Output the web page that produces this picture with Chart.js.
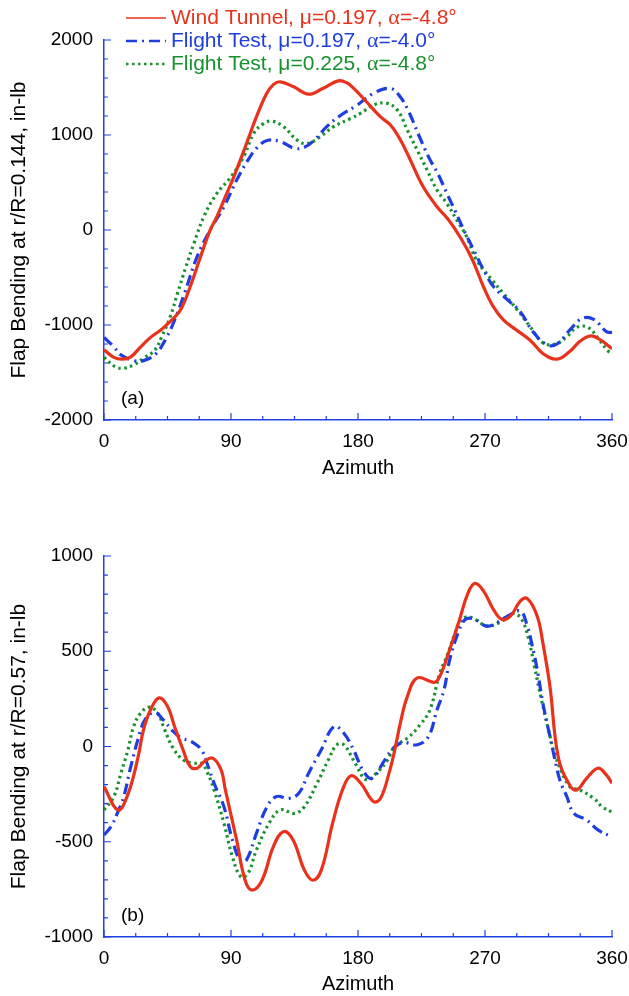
<!DOCTYPE html>
<html>
<head>
<meta charset="utf-8">
<script src="https://cdn.jsdelivr.net/npm/chart.js@4.4.1/dist/chart.umd.min.js"></script>
<style>
  body { margin: 0; background: #fff; width: 629px; height: 996px; overflow: hidden; }
  .box { position: absolute; left: 0; width: 629px; }
</style>
</head>
<body>
<div class="box" style="top:0"><canvas id="chartA" width="629" height="490"></canvas></div>
<div class="box" style="top:500px"><canvas id="chartB" width="629" height="496"></canvas></div>
<script>
// ---- data ----
const seriesLabels = [
  'Wind Tunnel, μ=0.197, α=-4.8°',
  'Flight Test, μ=0.197, α=-4.0°',
  'Flight Test, μ=0.225, α=-4.8°'
];
const xTicks = [0, 90, 180, 270, 360];
const yTicksA = [-2000, -1000, 0, 1000, 2000];
const yTicksB = [-1000, -500, 0, 500, 1000];

// (a) r/R = 0.144
const azA_wt = [0,7,13,19,26,33,40,45,50,55,61,68,75,80,86,92,101,108,115,120,125,134,145,155,166,172,177,186,196,203,210,217,226,236,244,253,261,269,276,283,292,302,311,321,330,337,345,352,360];
const fbA_wt = [-1260,-1340,-1360,-1335,-1230,-1130,-1055,-990,-920,-820,-600,-300,-10,140,350,560,910,1190,1430,1530,1560,1510,1430,1490,1570,1550,1490,1350,1190,1105,950,740,460,245,110,-90,-310,-600,-810,-945,-1050,-1160,-1300,-1360,-1280,-1175,-1115,-1160,-1250];
const azA_ft1 = [0,7,12,21,28,37,44,50,57,66,76,85,94,102,109,116,125,135,142,149,158,168,179,191,203,210,216,223,230,237,243,249,255,262,269,276,286,295,304,314,321,330,339,347,356,360];
const fbA_ft1 = [-1130,-1230,-1315,-1375,-1375,-1300,-1140,-950,-670,-280,20,245,525,735,875,945,930,860,870,945,1090,1210,1310,1440,1490,1400,1245,1000,770,580,385,195,0,-210,-420,-595,-735,-860,-1070,-1210,-1200,-1055,-930,-940,-1070,-1080];
const azA_ft2 = [0,8,14,21,28,36,41,47,52,58,64,71,80,90,99,106,113,119,127,137,144,153,163,175,182,191,200,208,215,222,229,236,243,250,257,264,275,283,293,302,311,320,328,335,343,351,357,360];
const fbA_ft2 = [-1340,-1440,-1455,-1420,-1350,-1265,-1120,-910,-670,-390,-130,150,385,560,770,1015,1120,1145,1090,945,910,980,1090,1175,1230,1315,1335,1260,1050,840,630,420,280,105,-70,-316,-526,-667,-842,-1018,-1186,-1200,-1123,-1025,-1025,-1158,-1270,-1300];

// (b) r/R = 0.57
const azB_wt = [0,10,17,24,28,33,39,45,50,56,61,66,71,77,83,86,94,100,105,112,120,127,134,142,148,154,162,169,175,182,191,196,202,206,210,215,222,234,238,245,252,258,263,269,276,282,288,295,300,307,311,316,322,330,335,342,350,356,360];
const fbB_wt = [-211,-333,-250,-60,88,193,255,211,105,-17,-105,-114,-79,-61,-123,-228,-491,-702,-754,-702,-526,-447,-491,-649,-702,-649,-403,-228,-154,-193,-289,-272,-140,-20,123,263,360,337,368,509,667,807,856,816,719,667,684,763,776,684,544,316,-60,-202,-228,-167,-114,-149,-193];
const azB_ft1 = [0,5,10,14,19,24,29,36,42,49,55,62,69,73,78,85,91,97,101,108,115,122,131,138,145,154,163,170,177,184,190,199,205,212,222,230,236,241,245,251,256,262,271,278,286,295,300,303,307,311,316,318,323,328,333,342,350,360];
const fbB_ft1 = [-465,-420,-340,-263,-105,35,140,179,140,79,44,26,-17,-88,-193,-316,-491,-605,-596,-456,-324,-263,-272,-246,-140,-17,105,70,-20,-132,-167,-70,-9,21,9,53,193,298,456,597,667,670,632,649,684,711,632,544,404,228,53,-17,-175,-263,-351,-386,-438,-475];
const azB_ft2 = [0,7,12,17,21,26,32,38,43,49,56,63,69,73,78,85,91,97,102,108,117,125,135,142,151,159,165,170,178,186,194,201,206,215,224,231,238,243,248,252,257,264,271,281,290,296,301,305,310,315,320,330,337,347,353,360];
const fbB_ft2 = [-333,-263,-140,-17,105,175,207,175,88,-9,-70,-88,-88,-132,-228,-403,-579,-684,-667,-544,-403,-333,-351,-316,-193,-70,9,9,-88,-175,-132,-70,0,44,114,193,386,474,579,649,681,663,632,653,698,667,561,421,246,88,-53,-211,-228,-272,-316,-345];

// ---- styling ----
const axisBlue = '#2340e0';
const colors = ['#e8321c', '#1f3ee0', '#17922c'];
const dashes = [[], [11, 5, 2, 5], [2.5, 3.5]];
const fontFam = "'Liberation Sans', Arial, sans-serif";

const pts = (xs, ys) => xs.map((x, i) => ({ x, y: ys[i] }));

function makeDatasets(sets) {
  return sets.map((s, i) => ({
    label: seriesLabels[i],
    data: pts(s[0], s[1]),
    borderColor: colors[i],
    borderWidth: 3.2,
    borderDash: dashes[i],
    pointRadius: 0,
    tension: 0.4,
    fill: false
  }));
}

// inward tick marks, drawn through the chart's own scales
const innerTicks = {
  id: 'innerTicks',
  afterDraw(chart, args, o) {
    const { ctx, chartArea: a, scales: { x, y } } = chart;
    ctx.save();
    ctx.strokeStyle = axisBlue;
    ctx.lineWidth = 1.2;
    ctx.beginPath();
    for (let v = 0; v <= 360; v += 22.5) {
      const px = x.getPixelForValue(v);
      const len = v % 90 === 0 ? 7 : 4;
      ctx.moveTo(px, a.bottom);
      ctx.lineTo(px, a.bottom - len);
    }
    for (let v = o.min; v <= o.max; v += o.minor) {
      const py = y.getPixelForValue(v);
      const len = v % o.major === 0 ? 7 : 4;
      ctx.moveTo(a.left, py);
      ctx.lineTo(a.left + len, py);
    }
    ctx.stroke();
    // panel tag
    ctx.fillStyle = '#000';
    ctx.font = '19px ' + fontFam;
    ctx.textBaseline = 'middle';
    ctx.fillText(o.tag, a.left + 17, a.bottom - 21);
    ctx.restore();
  }
};

// legend with line samples and coloured text
const lineLegend = {
  id: 'lineLegend',
  afterDraw(chart, args, o) {
    if (!o.show) return;
    const { ctx } = chart;
    ctx.save();
    chart.data.datasets.forEach((ds, i) => {
      const yy = 18 + i * 23;
      ctx.strokeStyle = ds.borderColor;
      ctx.lineWidth = i === 0 ? 1.5 : 2.5;
      ctx.setLineDash(ds.borderDash);
      ctx.beginPath();
      ctx.moveTo(126, yy);
      ctx.lineTo(166, yy);
      ctx.stroke();
      ctx.setLineDash([]);
      ctx.fillStyle = ds.borderColor;
      ctx.textBaseline = 'middle';
      let xx = 171;
      const parts = ds.label.split('α');
      parts.forEach((p, k) => {
        ctx.font = '21px ' + fontFam;
        ctx.fillText(p, xx, yy);
        xx += ctx.measureText(p).width;
        if (k < parts.length - 1) {
          ctx.font = "22px 'Liberation Serif', 'Times New Roman', serif";
          ctx.fillText('α', xx, yy);
          xx += ctx.measureText('α').width;
        }
      });
    });
    ctx.restore();
  }
};

function makeChart(id, sets, yTicks, opts) {
  return new Chart(document.getElementById(id), {
    type: 'line',
    data: { datasets: makeDatasets(sets) },
    plugins: [innerTicks, lineLegend],
    options: {
      responsive: false,
      animation: false,
      layout: { padding: { top: opts.top, right: 17, left: 0, bottom: 0 } },
      plugins: {
        legend: { display: false },
        tooltip: { enabled: false },
        innerTicks: { min: yTicks[0], max: yTicks[yTicks.length - 1], minor: opts.minor, major: yTicks[1] - yTicks[0], tag: opts.tag },
        lineLegend: { show: opts.legend }
      },
      scales: {
        x: {
          type: 'linear',
          min: 0, max: 360,
          afterBuildTicks: s => { s.ticks = xTicks.map(v => ({ value: v })); },
          afterFit: s => { s.height = opts.xh; s.paddingRight = 0; s.paddingLeft = 0; },
          grid: { display: false, drawTicks: false },
          border: { display: true, color: axisBlue, width: 1.5 },
          ticks: { color: '#000', padding: 10, font: { family: fontFam, size: 19 }, maxRotation: 0, callback: v => String(v) },
          title: { display: true, text: 'Azimuth', color: '#000', font: { family: fontFam, size: 20 }, padding: { top: 0, bottom: opts.tb } }
        },
        y: {
          min: yTicks[0], max: yTicks[yTicks.length - 1],
          afterBuildTicks: s => { s.ticks = yTicks.map(v => ({ value: v })); },
          afterFit: s => { s.width = 104; },
          grid: { display: false, drawTicks: false },
          border: { display: true, color: axisBlue, width: 1.5 },
          ticks: { color: '#000', padding: 11, font: { family: fontFam, size: 19 }, callback: v => String(v) },
          title: { display: true, text: opts.ytitle, color: '#000', font: { family: fontFam, size: 21 }, padding: { top: 7, bottom: 0 } }
        }
      }
    }
  });
}

makeChart('chartA', [[azA_wt, fbA_wt], [azA_ft1, fbA_ft1], [azA_ft2, fbA_ft2]], yTicksA,
  { top: 40, xh: 70, tb: 10, minor: 200, tag: '(a)', legend: true, ytitle: 'Flap Bending at r/R=0.144, in-lb' });
makeChart('chartB', [[azB_wt, fbB_wt], [azB_ft1, fbB_ft1], [azB_ft2, fbB_ft2]], yTicksB,
  { top: 56, xh: 59, tb: 0, minor: 100, tag: '(b)', legend: false, ytitle: 'Flap Bending at r/R=0.57, in-lb' });
</script>
</body>
</html>
